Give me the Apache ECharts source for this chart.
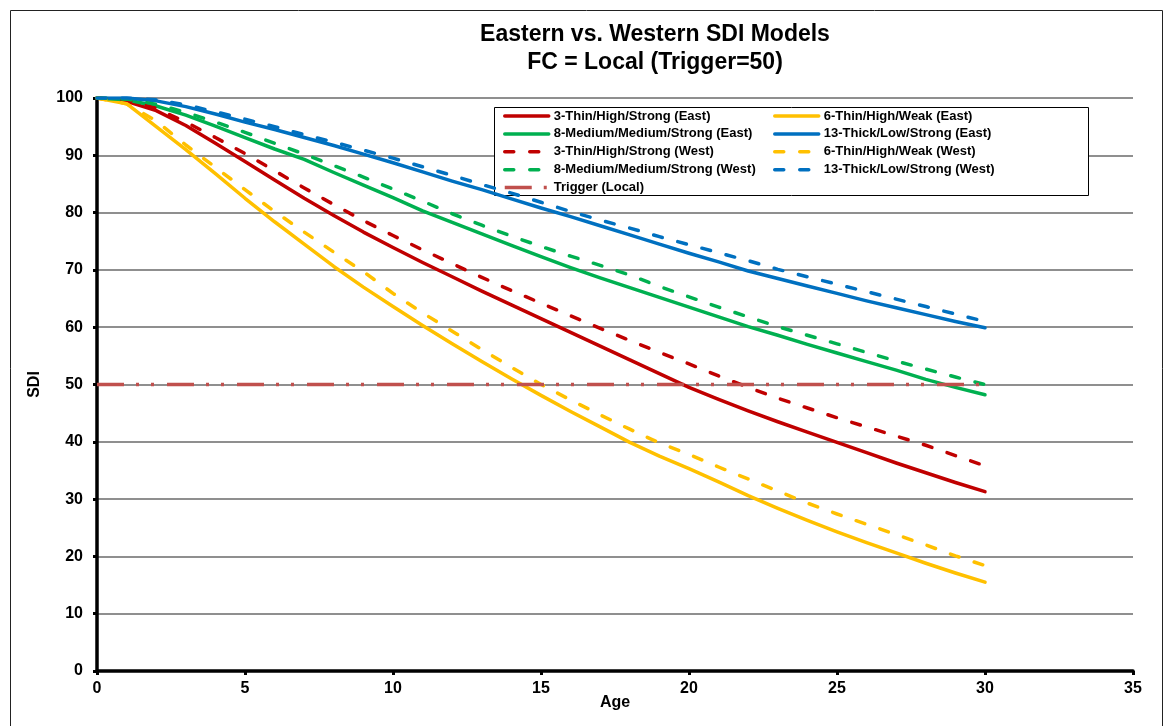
<!DOCTYPE html>
<html>
<head>
<meta charset="utf-8">
<script src="https://cdn.jsdelivr.net/npm/echarts@6/dist/echarts.min.js"></script>
<style>
  html, body { margin: 0; padding: 0; background: #fff; }
  #chart { width: 1166px; height: 726px; }
</style>
</head>
<body>
<div id="chart"></div>
<script>
// Stand age (years)
const ages = [0, 1, 2, 3, 4, 5, 6, 7, 8, 9, 10, 11, 12, 13, 14, 15, 16, 17, 18, 19, 20,
              21, 22, 23, 24, 25, 26, 27, 28, 29, 30];

// SDI by model, Eastern variants
const thin3East = [100, 99.4, 97.8, 95.2, 92.1, 88.9, 85.7, 82.5, 79.5, 76.6, 73.9, 71.3, 68.8, 66.3, 63.9, 61.5,
                   59.1, 56.7, 54.3, 51.9, 49.5, 47.4, 45.4, 43.5, 41.7, 39.9, 38.1, 36.3, 34.6, 32.9, 31.3];
const thin6East = [100, 99.0, 95.0, 91.0, 86.8, 82.5, 78.4, 74.5, 70.6, 67.0, 63.6, 60.3, 57.1, 54.0, 51.0, 48.1,
                   45.3, 42.6, 39.9, 37.5, 35.3, 33.0, 30.6, 28.4, 26.3, 24.3, 22.4, 20.6, 18.8, 17.1, 15.5];
const med8East = [100, 99.7, 98.6, 97.0, 95.1, 93.1, 91.1, 89.3, 87.0, 84.8, 82.6, 80.3, 78.3, 76.3, 74.3, 72.3,
                  70.4, 68.6, 66.9, 65.2, 63.5, 61.8, 60.1, 58.6, 57.0, 55.5, 54.0, 52.5, 50.9, 49.5, 48.2];
const thick13East = [100, 100, 99.5, 98.5, 97.2, 95.8, 94.5, 93.1, 91.7, 90.2, 88.7, 87.1, 85.5, 84.0, 82.4, 80.8,
                     79.3, 77.7, 76.1, 74.5, 72.9, 71.4, 69.8, 68.5, 67.2, 65.9, 64.6, 63.4, 62.2, 61.0, 59.9];

// SDI by model, Western variants
const thin3West = [100, 99.6, 98.2, 95.8, 93.1, 90.3, 87.3, 84.3, 81.4, 78.6, 76.0, 73.5, 71.1, 68.7, 66.4, 64.2,
                   62.0, 59.8, 57.7, 55.6, 53.6, 51.5, 49.5, 47.6, 45.9, 44.2, 42.6, 41.0, 39.4, 37.6, 35.8];
const thin6West = [100, 99.0, 96.0, 91.8, 87.9, 84.0, 80.2, 76.6, 73.1, 69.7, 65.9, 62.5, 59.3, 56.1, 53.0, 50.0,
                   47.3, 44.7, 42.2, 39.8, 37.8, 35.6, 33.5, 31.4, 29.3, 27.4, 25.6, 23.8, 22.0, 20.1, 18.4];
const med8West = [100, 99.8, 98.9, 97.5, 95.8, 94.0, 92.1, 90.2, 88.2, 86.2, 84.1, 82.0, 79.8, 77.8, 75.9, 74.1,
                  72.4, 70.8, 69.1, 67.1, 65.3, 63.5, 61.8, 60.1, 58.6, 57.1, 55.6, 54.1, 52.7, 51.3, 50.0];
const thick13West = [100, 100, 99.7, 98.8, 97.6, 96.3, 95.0, 93.6, 92.3, 90.9, 89.5, 88.0, 86.5, 84.9, 83.4, 81.8,
                     80.2, 78.7, 77.3, 75.8, 74.4, 73.0, 71.6, 70.1, 68.8, 67.5, 66.2, 64.9, 63.6, 62.3, 61.0];

// Local trigger threshold
const triggerAges = [0, 30];
const triggerValues = [50, 50];

const FONT = "'Liberation Sans', Arial, Helvetica, sans-serif";
const RED = '#C00000', YELLOW = '#FFC000', GREEN = '#00B050', BLUE = '#0070C0', TRIG = '#C0504D';
const DASH = [9, 16];

function pairs(xs, ys) { return xs.map((x, i) => [x, ys[i]]); }

function lineSeries(name, ys, color, dashed) {
  return {
    name: name,
    type: 'line',
    data: pairs(ages, ys),
    symbol: 'none',
    smooth: false,
    color: color,
    lineStyle: { color: color, width: 3.5, type: dashed ? DASH : 'solid', cap: 'round', join: 'round' },
    emphasis: { disabled: true }
  };
}

const series = [
  lineSeries('3-Thin/High/Strong (East)', thin3East, RED, false),
  lineSeries('6-Thin/High/Weak (East)', thin6East, YELLOW, false),
  lineSeries('8-Medium/Medium/Strong (East)', med8East, GREEN, false),
  lineSeries('13-Thick/Low/Strong (East)', thick13East, BLUE, false),
  lineSeries('3-Thin/High/Strong (West)', thin3West, RED, true),
  lineSeries('6-Thin/High/Weak (West)', thin6West, YELLOW, true),
  lineSeries('8-Medium/Medium/Strong (West)', med8West, GREEN, true),
  lineSeries('13-Thick/Low/Strong (West)', thick13West, BLUE, true),
  {
    name: 'Trigger (Local)',
    type: 'line',
    data: pairs(triggerAges, triggerValues),
    symbol: 'none',
    color: TRIG,
    lineStyle: { color: TRIG, width: 3.5, type: [27, 12, 3, 12, 3, 13], cap: 'butt' },
    emphasis: { disabled: true }
  }
];

const legendText = { color: '#000', fontFamily: FONT, fontWeight: 'bold', fontSize: 13 };
const legendCommon = {
  orient: 'vertical',
  top: 109.5,
  padding: 0,
  itemWidth: 44,
  itemHeight: 14,
  itemGap: 4.9,
  textStyle: legendText,
  lineStyle: { width: 3.5 },
  // legend keys show the line only, without a marker
  itemStyle: { opacity: 0 },
  selectedMode: false
};

const chart = echarts.init(document.getElementById('chart'), null, { renderer: 'canvas' });
chart.setOption({
  animation: false,
  backgroundColor: '#fff',
  title: {
    text: 'Eastern vs. Western SDI Models\nFC = Local (Trigger=50)',
    left: 650,
    textAlign: 'center',
    top: 16,
    textStyle: { fontFamily: FONT, fontWeight: 'bold', fontSize: 23, color: '#000', lineHeight: 28 }
  },
  grid: { left: 97, right: 33, top: 98, bottom: 55, containLabel: false },
  xAxis: {
    type: 'value',
    min: 0, max: 35, interval: 5,
    name: 'Age',
    nameLocation: 'middle',
    nameGap: 24,
    nameMoveOverlap: false,
    nameTextStyle: { fontFamily: FONT, fontWeight: 'bold', fontSize: 16, color: '#000' },
    axisLine: { show: true, onZero: false, lineStyle: { color: '#000', width: 3.5 } },
    axisTick: { show: true, inside: false, length: 4, lineStyle: { color: '#000', width: 3 } },
    axisLabel: { fontFamily: FONT, fontWeight: 'bold', fontSize: 16, color: '#000', margin: 10 },
    splitLine: { show: false }
  },
  yAxis: {
    type: 'value',
    min: 0, max: 100, interval: 10,
    name: 'SDI',
    nameLocation: 'middle',
    nameRotate: 90,
    nameGap: 54,
    nameMoveOverlap: false,
    nameTextStyle: { fontFamily: FONT, fontWeight: 'bold', fontSize: 16, color: '#000' },
    axisLine: { show: true, lineStyle: { color: '#000', width: 3.5 } },
    axisTick: { show: true, inside: false, length: 4, lineStyle: { color: '#000', width: 3 } },
    axisLabel: { fontFamily: FONT, fontWeight: 'bold', fontSize: 16, color: '#000', margin: 14 },
    splitLine: { show: true, lineStyle: { color: '#6a6a6a', width: 1.5 } }
  },
  legend: [
    Object.assign({}, legendCommon, {
      left: 503,
      data: ['3-Thin/High/Strong (East)', '8-Medium/Medium/Strong (East)',
             '3-Thin/High/Strong (West)', '8-Medium/Medium/Strong (West)', 'Trigger (Local)']
    }),
    Object.assign({}, legendCommon, {
      left: 773,
      data: ['6-Thin/High/Weak (East)', '13-Thick/Low/Strong (East)',
             '6-Thin/High/Weak (West)', '13-Thick/Low/Strong (West)']
    })
  ],
  graphic: [
    {
      type: 'rect',
      z: 0,
      silent: true,
      shape: { x: 10.5, y: 10.5, width: 1152, height: 760 },
      style: { fill: 'none', stroke: '#222', lineWidth: 1 }
    },
    {
      type: 'rect',
      z: 3,
      silent: true,
      shape: { x: 494.5, y: 107.5, width: 594, height: 88 },
      style: { fill: '#fff', stroke: '#000', lineWidth: 1 }
    }
  ],
  series: series
});
</script>
</body>
</html>
